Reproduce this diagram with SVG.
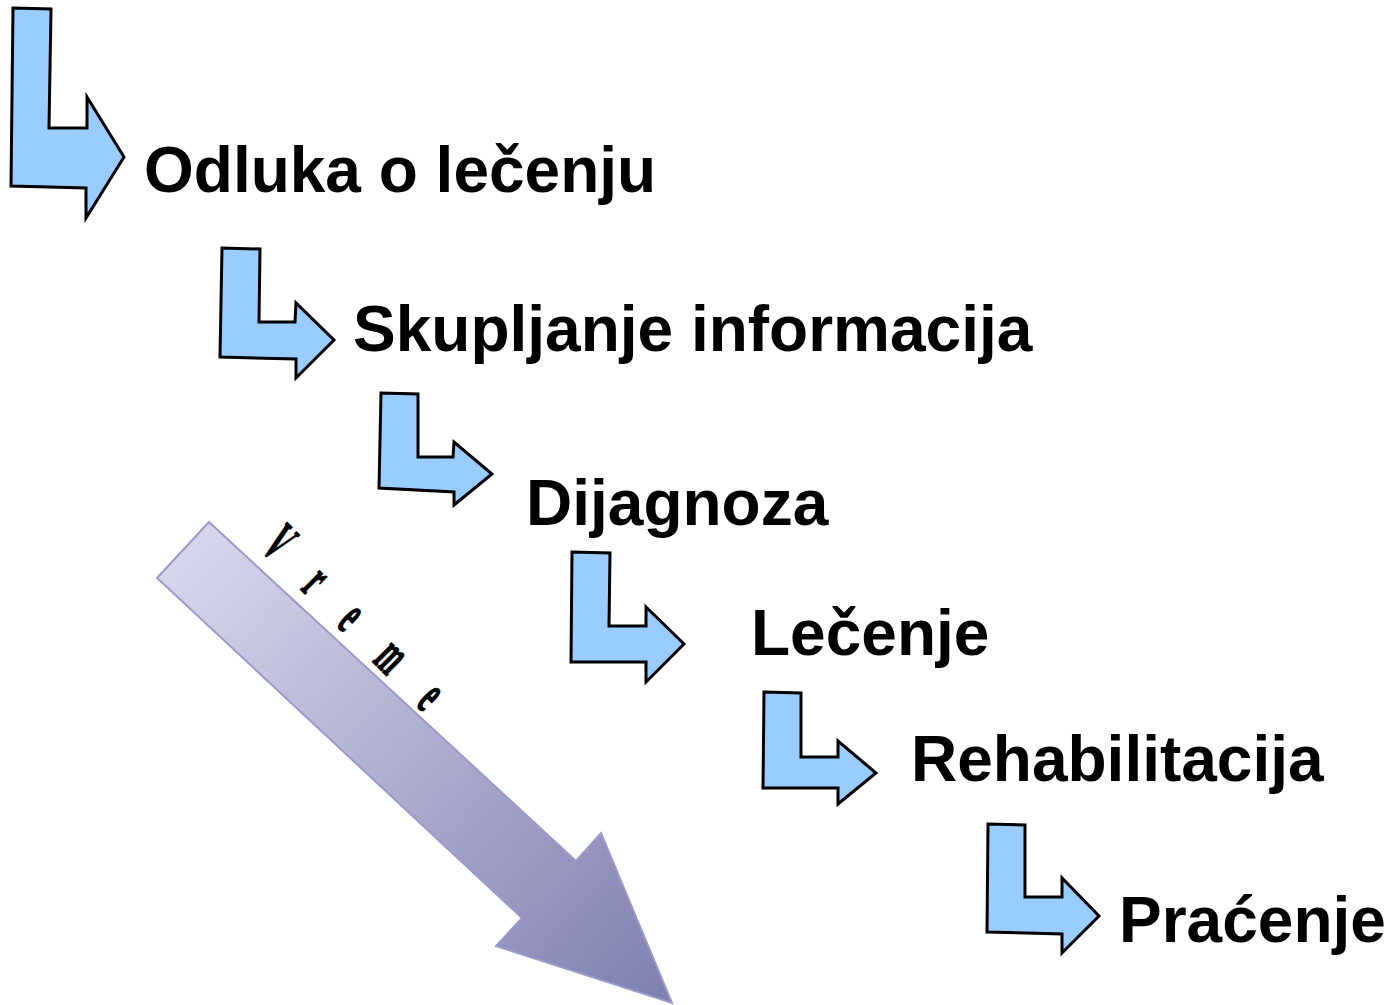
<svg xmlns="http://www.w3.org/2000/svg" width="1391" height="1005" viewBox="0 0 1391 1005">
  <defs>
    <linearGradient id="timeGrad" gradientUnits="userSpaceOnUse" x1="160" y1="530" x2="660" y2="1000">
      <stop offset="0" stop-color="#dadaee"/>
      <stop offset="1" stop-color="#8080b0"/>
    </linearGradient>
    <style>
      .step { fill: #99ccff; stroke: #000000; stroke-width: 3; stroke-linejoin: miter; }
      .label { font-family: "Liberation Sans", Arial, sans-serif; font-weight: bold; font-size: 64px; fill: #000000; }
      .time { fill: url(#timeGrad); stroke: #9a9acc; stroke-width: 2; stroke-linejoin: miter; }
      .vreme { font-family: "Liberation Serif", "Times New Roman", serif; font-weight: bold; font-size: 58px; fill: #000000; stroke: #000000; stroke-width: 1.5; letter-spacing: 88px; }
    </style>
  </defs>
  <rect x="0" y="0" width="1391" height="1005" fill="#ffffff"/>

  <g id="time">
    <polygon class="time" points="209,522 576,861 601,833 672,1003 496,946 522,918 157,578"/>
    <g transform="translate(259.7,548.9) rotate(45)">
      <text class="vreme" transform="scale(0.45,1)" x="0" y="0">Vreme</text>
    </g>
  </g>

  <g id="connectors"></g>

  <g id="step1">
    <polygon class="step" points="13,8 51,9 49,128 87,128 87,97 124,157 86,218 86,188 11,186"/>
    <text class="label" x="144" y="192">Odluka o lečenju</text>
  </g>

  <g id="step2">
    <polygon class="step" points="222,248 260,249 259,322 295,322 296,303 334,340 296,378 296,359 220,357"/>
    <text class="label" x="353" y="351">Skupljanje informacija</text>
  </g>

  <g id="step3">
    <polygon class="step" points="381,393 418,394 418,457 453,457 454,442 492,474 454,505 454,492 379,488"/>
    <text class="label" x="526" y="525">Dijagnoza</text>
  </g>

  <g id="step4">
    <polygon class="step" points="572,552 610,553 609,626 646,626 646,607 684,644 646,682 646,662 571,662"/>
    <text class="label" x="751" y="655">Lečenje</text>
  </g>

  <g id="step5">
    <polygon class="step" points="764,692 801,693 801,757 838,757 838,741 876,773 838,804 838,788 763,788"/>
    <text class="label" x="911" y="781">Rehabilitacija</text>
  </g>

  <g id="step6">
    <polygon class="step" points="988,824 1025,825 1025,897 1062,897 1062,878 1099,916 1062,953 1062,934 987,932"/>
    <text class="label" x="1119" y="942">Praćenje</text>
  </g>
</svg>
